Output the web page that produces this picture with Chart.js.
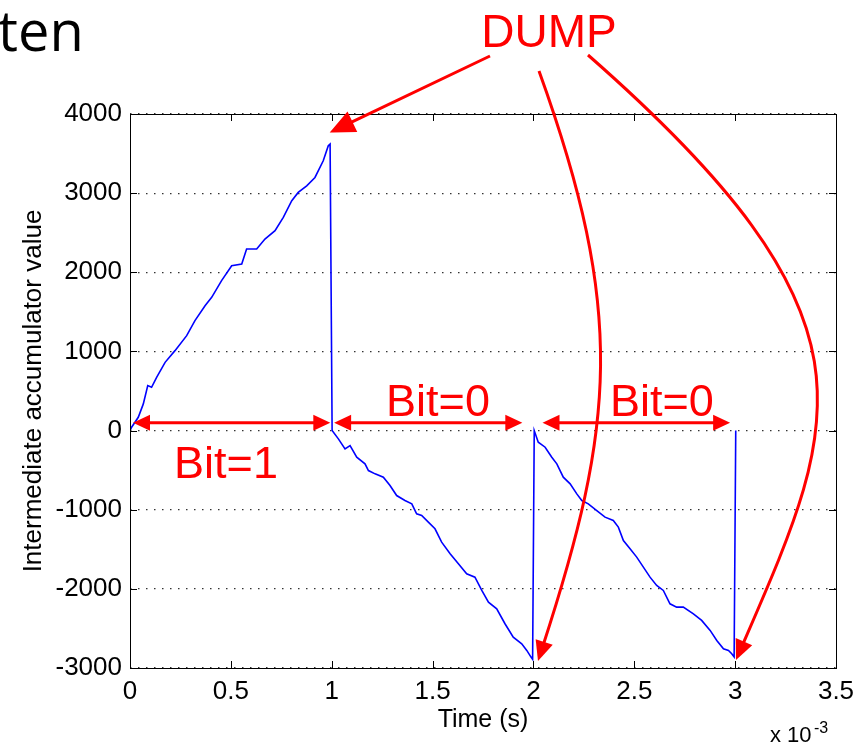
<!DOCTYPE html>
<html>
<head>
<meta charset="utf-8">
<script src="https://cdn.jsdelivr.net/npm/chart.js@4.4.0/dist/chart.umd.min.js"></script>
<style>
  html, body { margin: 0; padding: 0; background: #fff; }
  #wrap { width: 856px; height: 745px; position: relative; }
</style>
</head>
<body>
<div id="wrap"><canvas id="myChart" width="856" height="745"></canvas></div>
<script>
// time in units of 1e-3 s, accumulator value in counts
let bit1_time = [0, 0.008, 0.041, 0.066, 0.088, 0.107, 0.132, 0.174, 0.223, 0.281, 0.322, 0.372, 0.405, 0.454, 0.504, 0.554, 0.578, 0.628, 0.669, 0.719, 0.760, 0.802, 0.834, 0.876, 0.917, 0.958, 0.983, 0.992]
let bit1_value = [0, 42, 168, 337, 568, 547, 673, 862, 1010, 1199, 1389, 1578, 1683, 1894, 2083, 2104, 2294, 2294, 2420, 2525, 2694, 2904, 3009, 3093, 3198, 3409, 3598, 3620]

let bit0a_time = [1.002, 1.033, 1.066, 1.091, 1.124, 1.165, 1.182, 1.215, 1.256, 1.289, 1.322, 1.363, 1.397, 1.421, 1.446, 1.479, 1.512, 1.545, 1.587, 1.628, 1.669, 1.710, 1.744, 1.777, 1.818, 1.859, 1.900, 1.942, 1.967, 1.988, 1.996]
let bit0a_value = [0, -105, -232, -189, -337, -421, -505, -547, -589, -694, -821, -884, -926, -1052, -1073, -1157, -1241, -1410, -1557, -1683, -1810, -1852, -2020, -2168, -2252, -2441, -2610, -2694, -2778, -2862, -2890]

let bit0b_time = [2.004, 2.024, 2.058, 2.091, 2.116, 2.148, 2.182, 2.215, 2.240, 2.272, 2.314, 2.355, 2.396, 2.421, 2.446, 2.479, 2.512, 2.545, 2.578, 2.611, 2.644, 2.677, 2.710, 2.743, 2.793, 2.834, 2.876, 2.909, 2.942, 2.967, 2.983, 2.995, 3.003]
let bit0b_value = [0, -147, -210, -337, -421, -589, -673, -800, -884, -926, -1010, -1094, -1136, -1220, -1389, -1494, -1599, -1726, -1852, -1957, -2020, -2189, -2231, -2231, -2315, -2399, -2525, -2652, -2757, -2778, -2820, -2860, 0]

// bit intervals [start, end] in 1e-3 s and their labels
let bit_start = [0.015, 1.012, 2.045]
let bit_end = [0.993, 1.945, 2.975]
let bit_labels = ['Bit=1', 'Bit=0', 'Bit=0']

let all_time = bit1_time.concat(bit0a_time, bit0b_time)
let all_value = bit1_value.concat(bit0a_value, bit0b_value)
let points = all_time.map((t, i) => ({ x: t, y: all_value[i] }))

const RED = '#ff0000'

const arrow_head = (ctx, x0, y0, x1, y1, len, half) => {
  let a = Math.atan2(y1 - y0, x1 - x0)
  let bx = x1 - len * Math.cos(a)
  let by = y1 - len * Math.sin(a)
  ctx.beginPath()
  ctx.moveTo(x1, y1)
  ctx.lineTo(bx + half * Math.sin(a), by - half * Math.cos(a))
  ctx.lineTo(bx - half * Math.sin(a), by + half * Math.cos(a))
  ctx.closePath()
  ctx.fill()
  return [bx, by]
}

const curved_arrow = (ctx, p0, p1, p2, p3) => {
  let a = Math.atan2(p3[1] - p2[1], p3[0] - p2[0])
  let ex = p3[0] - 14 * Math.cos(a)
  let ey = p3[1] - 14 * Math.sin(a)
  ctx.beginPath()
  ctx.moveTo(p0[0], p0[1])
  ctx.bezierCurveTo(p1[0], p1[1], p2[0], p2[1], ex, ey)
  ctx.stroke()
  arrow_head(ctx, p2[0], p2[1], p3[0], p3[1], 20, 9)
}

const matlab_box = {
  id: 'matlab_box',
  afterDatasetsDraw(chart) {
    const ctx = chart.ctx
    const a = chart.chartArea
    const xs = chart.scales.x
    const ys = chart.scales.y
    ctx.save()
    ctx.strokeStyle = '#000'
    ctx.lineWidth = 1
    ctx.strokeRect(Math.round(a.left) + 0.5, Math.round(a.top) + 0.5, Math.round(a.right - a.left), Math.round(a.bottom - a.top))
    ctx.beginPath()
    xs.ticks.forEach(t => {
      let px = Math.round(xs.getPixelForValue(t.value)) + 0.5
      ctx.moveTo(px, a.bottom); ctx.lineTo(px, a.bottom - 7)
      ctx.moveTo(px, a.top); ctx.lineTo(px, a.top + 7)
    })
    ys.ticks.forEach(t => {
      let py = Math.round(ys.getPixelForValue(t.value)) + 0.5
      ctx.moveTo(a.left, py); ctx.lineTo(a.left + 7, py)
      ctx.moveTo(a.right, py); ctx.lineTo(a.right - 7, py)
    })
    ctx.stroke()

    // x 10^-3 multiplier
    ctx.fillStyle = '#000'
    ctx.textBaseline = 'alphabetic'
    ctx.textAlign = 'left'
    ctx.font = '22px "Liberation Sans", Arial, sans-serif'
    ctx.fillText('x 10', 770, 742)
    ctx.font = '16px "Liberation Sans", Arial, sans-serif'
    ctx.fillText('-3', 814, 733)
    ctx.restore()
  },
  afterDraw(chart) {
    const ctx = chart.ctx
    const xs = chart.scales.x
    const ys = chart.scales.y
    ctx.save()

    // slide title fragment
    ctx.fillStyle = '#000'
    ctx.font = '56px "Open Sans", "Noto Sans", sans-serif'
    ctx.textAlign = 'left'
    ctx.textBaseline = 'alphabetic'
    ctx.fillText('ten', -2, 51)

    ctx.fillStyle = RED
    ctx.strokeStyle = RED
    ctx.lineWidth = 3
    ctx.lineCap = 'butt'

    // bit interval arrows
    let y_arrow = ys.getPixelForValue(100)
    bit_start.forEach((s, i) => {
      let x0 = xs.getPixelForValue(s)
      let x1 = xs.getPixelForValue(bit_end[i])
      ctx.beginPath()
      ctx.moveTo(x0 + 14, y_arrow)
      ctx.lineTo(x1 - 14, y_arrow)
      ctx.stroke()
      arrow_head(ctx, x1 - 30, y_arrow, x1, y_arrow, 17, 8)
      arrow_head(ctx, x0 + 30, y_arrow, x0, y_arrow, 17, 8)
    })

    ctx.font = '45px "Liberation Sans", Arial, sans-serif'
    ctx.textAlign = 'center'
    ctx.fillText(bit_labels[0], xs.getPixelForValue(0.476), ys.getPixelForValue(-600))
    ctx.fillText(bit_labels[1], xs.getPixelForValue(1.527), ys.getPixelForValue(185))
    ctx.fillText(bit_labels[2], xs.getPixelForValue(2.637), ys.getPixelForValue(185))

    // DUMP arrows
    ctx.font = '46px "Liberation Sans", Arial, sans-serif'
    ctx.fillText('DUMP', 549, 47)
    let tip1 = [333, 131]
    ctx.beginPath()
    ctx.moveTo(490, 56)
    let base = arrow_head(ctx, 490, 56, tip1[0], tip1[1], 20, 9)
    ctx.moveTo(490, 56)
    ctx.lineTo(base[0], base[1])
    ctx.stroke()
    curved_arrow(ctx, [539, 71], [626, 312], [615, 425], [538, 661])
    curved_arrow(ctx, [588, 55], [890, 320], [840, 420], [736, 660])
    ctx.restore()
  }
}

const config = {
  type: 'line',
  data: {
    datasets: [{
      data: points,
      borderColor: '#0000ff',
      borderWidth: 1.6,
      pointRadius: 0,
      tension: 0,
      fill: false
    }]
  },
  options: {
    responsive: false,
    animation: false,
    devicePixelRatio: 1,
    layout: { padding: { top: 114, right: 20, left: 0, bottom: 0 } },
    plugins: { legend: { display: false }, tooltip: { enabled: false } },
    scales: {
      x: {
        type: 'linear',
        min: 0,
        max: 3.5,
        afterFit: (s) => { s.height = 77; s.paddingLeft = 0; s.paddingRight = 0 },
        ticks: {
          stepSize: 0.5,
          padding: 8,
          color: '#000',
          font: { family: '"Liberation Sans", Arial, sans-serif', size: 26 },
          callback: (v) => String(v),
          maxRotation: 0,
          autoSkip: false
        },
        grid: { display: false, drawTicks: false },
        border: { display: false },
        title: {
          display: true,
          text: 'Time (s)',
          color: '#000',
          font: { family: '"Liberation Sans", Arial, sans-serif', size: 25 },
          padding: { top: 0, bottom: 10 }
        }
      },
      y: {
        type: 'linear',
        min: -3000,
        max: 4000,
        afterFit: (s) => { s.width = 130; s.paddingTop = 0; s.paddingBottom = 0 },
        ticks: {
          stepSize: 1000,
          padding: 8,
          color: '#000',
          font: { family: '"Liberation Sans", Arial, sans-serif', size: 26 },
          callback: (v) => String(v)
        },
        grid: { color: '#333', lineWidth: 1.2, drawTicks: false },
        border: { display: false, dash: [1.5, 6.5] },
        title: {
          display: true,
          text: 'Intermediate accumulator value',
          color: '#000',
          font: { family: '"Liberation Sans", Arial, sans-serif', size: 26 },
          padding: { top: 18, bottom: 0 }
        }
      }
    }
  },
  plugins: [matlab_box]
}

const myChart = new Chart(document.getElementById('myChart'), config)
</script>
</body>
</html>
